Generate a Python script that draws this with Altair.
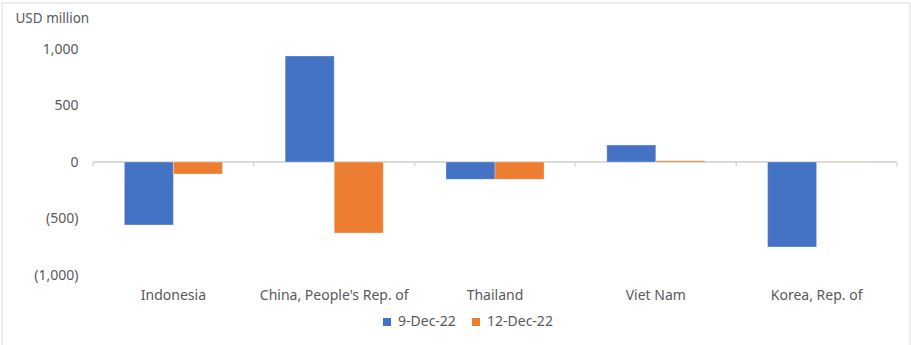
import altair as alt
import pandas as pd

countries = ["Indonesia", "China, People's Rep. of", "Thailand", "Viet Nam", "Korea, Rep. of"]
dec9 = [-557, 938, -153, 150, -752]
dec12 = [-106, -628, -153, 12, 3]
series = ["9-Dec-22", "12-Dec-22"]
colors = ["#4472C4", "#ED7D31"]
y_ticks = [1000, 500, 0, -500, -1000]

rows = []
for c, a, b in zip(countries, dec9, dec12):
    rows.append({"country": c, "series": series[0], "value": a})
    rows.append({"country": c, "series": series[1], "value": b})
df = pd.DataFrame(rows)
cat_df = pd.DataFrame({"country": countries})

W, H = 804, 226
FONT = "Noto Sans"
GREY = "#595959"
FS = 14

xscale = alt.Scale(domain=countries, paddingInner=0, paddingOuter=0)
yscale = alt.Scale(domain=[-1000, 1000], nice=False)
xaxis = alt.Axis(title=None, labelAngle=0, domain=False, ticks=False, grid=False,
                 bandPosition=0.5,
                 labelPadding=13, labelFont=FONT, labelFontSize=FS,
                 labelColor=GREY)

bars = alt.Chart(df).mark_bar(stroke="white", strokeWidth=0.5, strokeOpacity=0.6).encode(
    x=alt.X("country:N", scale=xscale, sort=countries, axis=xaxis),
    xOffset=alt.XOffset("series:N", sort=series,
                        scale=alt.Scale(domain=series, paddingInner=0, paddingOuter=0.64)),
    y=alt.Y("value:Q", scale=yscale,
            axis=alt.Axis(title="USD million", titleAngle=0, titleAlign="left",
                          titleBaseline="alphabetic", titleX=-78, titleY=-27,
                          titleFont=FONT, titleFontSize=13.5, titleFontWeight="normal",
                          titleColor=GREY,
                          values=y_ticks, grid=False, domain=False, ticks=False,
                          labelPadding=15, labelFont=FONT, labelFontSize=FS,
                          labelColor=GREY,
                          labelExpr="datum.value < 0 ? '(' + format(-datum.value, ',') + ')' : format(datum.value, ',')")),
    color=alt.Color("series:N", sort=series,
                    scale=alt.Scale(domain=series, range=colors),
                    legend=alt.Legend(title=None, orient="none", direction="horizontal",
                                      legendX=287, legendY=266, symbolType="square",
                                      symbolSize=64, symbolStrokeWidth=0,
                                      labelFont=FONT, labelFontSize=FS, labelColor=GREY,
                                      columnPadding=13, symbolOffset=0, labelOffset=4)),
)

zero = alt.Chart(cat_df).mark_rule(color="#d9d9d9", strokeWidth=1.5).encode(
    x=alt.value(0), x2=alt.value(W), y=alt.datum(0, scale=yscale)
)

ticks = alt.Chart(cat_df).mark_rule(color="#d9d9d9", strokeWidth=1.5).encode(
    x=alt.X("country:N", scale=xscale, sort=countries, bandPosition=0, axis=xaxis),
    y=alt.datum(0), y2=alt.datum(-40),
)
last_tick = alt.Chart(cat_df.head(1)).mark_rule(color="#d9d9d9", strokeWidth=1.5).encode(
    x=alt.value(W), y=alt.datum(0), y2=alt.datum(-40),
)

border = alt.Chart(cat_df.head(1)).mark_rect(fill="transparent", stroke="#d9d9d9", strokeWidth=1).encode(
    x=alt.value(-91), x2=alt.value(W + 13), y=alt.value(-46), y2=alt.value(H + 100)
)

chart = alt.layer(border, zero, ticks, last_tick, bars).properties(
    width=W, height=H,
    background="white",
    autosize=alt.AutoSizeParams(type="none"),
    padding={"left": 93, "top": 49, "right": 14, "bottom": 70},
).configure_view(stroke="transparent", strokeWidth=0)

chart.save("out.html", embed_options={"renderer": "svg", "actions": False})
